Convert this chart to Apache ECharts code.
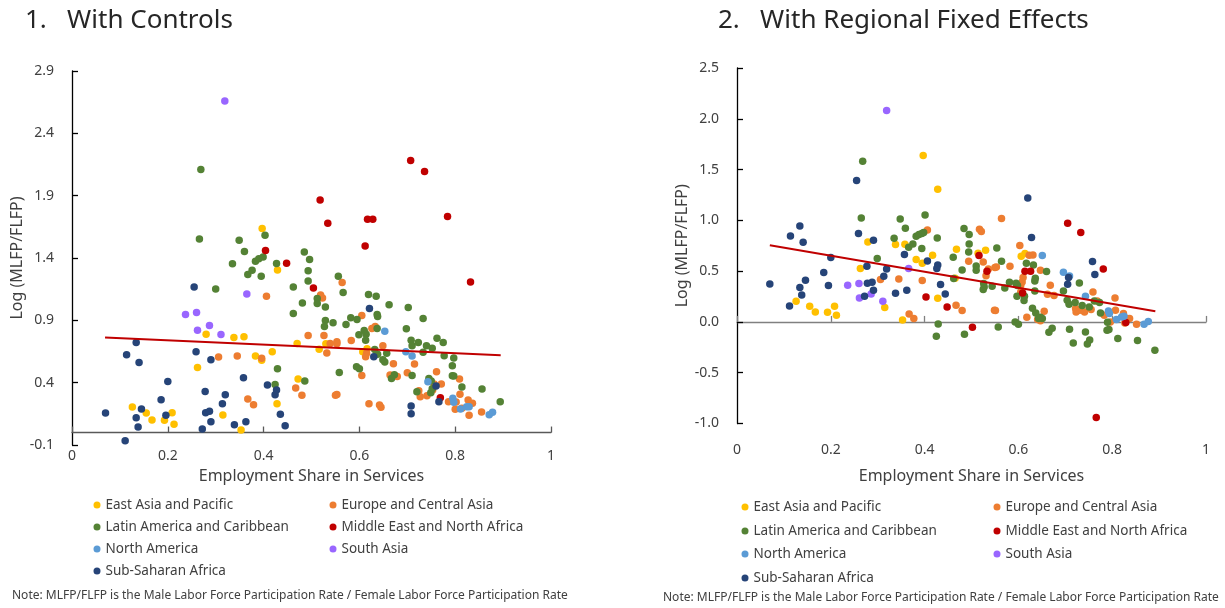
<!DOCTYPE html>
<html>
<head>
<meta charset="utf-8">
<script src="https://cdn.jsdelivr.net/npm/echarts@6/dist/echarts.min.js"></script>
<style>
html,body{margin:0;padding:0;background:#fff;}
#c{width:1225px;height:608px;}
</style>
</head>
<body>
<div id="c"></div>
<script>
const regions = ["East Asia and Pacific","Europe and Central Asia","Latin America and Caribbean","Middle East and North Africa","North America","South Asia","Sub-Saharan Africa"];
const colors = ["#FFC000","#ED7D31","#548235","#C00000","#5B9BD5","#9966FF","#264478"];
const xTicks = [0,0.2,0.4,0.6,0.8,1];

// Panel 1: With Controls  [employment share in services, log(MLFP/FLFP)]
const c_eap = [[0.126,0.204],[0.155,0.156],[0.167,0.100],[0.193,0.098],[0.209,0.159],[0.213,0.066],[0.262,0.522],[0.280,0.789],[0.338,0.763],[0.359,0.768],[0.383,0.613],[0.396,0.579],[0.418,0.647],[0.315,0.140],[0.353,0.020],[0.428,0.231],[0.472,0.429],[0.470,0.715],[0.429,1.304],[0.397,1.636],[0.530,0.712],[0.516,0.669],[0.616,0.672],[0.607,0.647]];
const c_eca = [[0.406,1.094],[0.306,0.605],[0.345,0.613],[0.396,0.595],[0.367,0.268],[0.379,0.223],[0.467,0.357],[0.480,0.300],[0.493,0.779],[0.519,1.104],[0.523,1.080],[0.564,1.203],[0.605,0.939],[0.626,0.835],[0.633,0.851],[0.526,0.779],[0.539,0.715],[0.553,0.728],[0.553,0.712],[0.583,0.739],[0.649,0.696],[0.532,0.637],[0.615,0.635],[0.613,0.607],[0.671,0.551],[0.715,0.549],[0.605,0.458],[0.664,0.461],[0.679,0.450],[0.700,0.479],[0.761,0.487],[0.809,0.429],[0.756,0.389],[0.771,0.389],[0.753,0.341],[0.724,0.335],[0.727,0.287],[0.741,0.295],[0.786,0.247],[0.810,0.308],[0.802,0.244],[0.827,0.260],[0.836,0.234],[0.800,0.186],[0.814,0.194],[0.829,0.138],[0.855,0.164],[0.550,0.300],[0.553,0.306],[0.620,0.231],[0.642,0.220],[0.645,0.202]];
const c_lac = [[0.269,2.109],[0.266,1.553],[0.349,1.543],[0.403,1.583],[0.360,1.452],[0.485,1.449],[0.335,1.353],[0.367,1.268],[0.376,1.302],[0.383,1.374],[0.390,1.393],[0.399,1.409],[0.395,1.254],[0.427,1.356],[0.300,1.152],[0.493,1.297],[0.493,1.216],[0.462,1.168],[0.481,1.040],[0.462,0.955],[0.429,0.511],[0.424,0.386],[0.486,0.413],[0.496,1.388],[0.556,1.254],[0.566,1.123],[0.512,1.075],[0.512,1.035],[0.529,1.006],[0.619,1.107],[0.635,1.094],[0.662,1.024],[0.702,1.003],[0.733,0.915],[0.637,0.947],[0.638,0.931],[0.582,0.920],[0.595,0.907],[0.529,0.899],[0.527,0.851],[0.545,0.880],[0.572,0.867],[0.637,0.835],[0.610,0.819],[0.614,0.789],[0.613,0.741],[0.599,0.784],[0.698,0.832],[0.708,0.741],[0.710,0.696],[0.723,0.723],[0.740,0.696],[0.752,0.677],[0.762,0.757],[0.775,0.723],[0.733,0.643],[0.632,0.667],[0.657,0.635],[0.649,0.584],[0.777,0.615],[0.797,0.597],[0.638,0.627],[0.653,0.565],[0.794,0.535],[0.794,0.455],[0.797,0.453],[0.814,0.365],[0.856,0.349],[0.894,0.247],[0.558,0.482],[0.594,0.527],[0.600,0.511],[0.710,0.458],[0.673,0.463],[0.667,0.434],[0.745,0.434],[0.750,0.413],[0.720,0.327],[0.749,0.319],[0.752,0.351]];
const c_mena = [[0.448,1.358],[0.404,1.460],[0.707,2.183],[0.736,2.093],[0.518,1.865],[0.534,1.679],[0.617,1.711],[0.628,1.711],[0.784,1.732],[0.612,1.497],[0.504,1.160],[0.832,1.208],[0.769,0.279]];
const c_na = [[0.653,0.813],[0.697,0.647],[0.710,0.613],[0.743,0.407],[0.795,0.274],[0.797,0.242],[0.811,0.188],[0.824,0.207],[0.829,0.207],[0.871,0.143],[0.878,0.162]];
const c_sa = [[0.319,2.659],[0.237,0.947],[0.260,0.963],[0.262,0.821],[0.287,0.859],[0.311,0.787],[0.365,1.112]];
const c_ssa = [[0.255,1.168],[0.134,0.723],[0.114,0.623],[0.140,0.562],[0.259,0.647],[0.290,0.583],[0.200,0.410],[0.358,0.439],[0.278,0.330],[0.320,0.303],[0.186,0.263],[0.070,0.156],[0.145,0.188],[0.134,0.119],[0.138,0.044],[0.196,0.138],[0.314,0.231],[0.279,0.159],[0.287,0.170],[0.290,0.087],[0.272,0.028],[0.339,0.063],[0.363,0.087],[0.111,-0.066],[0.408,0.381],[0.427,0.341],[0.424,0.303],[0.435,0.146],[0.445,0.054],[0.621,0.995],[0.630,0.607],[0.760,0.373],[0.766,0.247],[0.708,0.212],[0.708,0.151]];
const c_trend = [[0.069,0.763],[0.895,0.619]];

// Panel 2: With Regional Fixed Effects
const f_eap = [[0.397,1.638],[0.428,1.306],[0.279,0.787],[0.338,0.762],[0.358,0.765],[0.468,0.716],[0.417,0.656],[0.382,0.614],[0.395,0.578],[0.263,0.526],[0.315,0.142],[0.428,0.233],[0.353,0.020],[0.126,0.204],[0.155,0.155],[0.167,0.098],[0.193,0.095],[0.208,0.155],[0.212,0.066],[0.514,0.676],[0.530,0.706],[0.606,0.647],[0.614,0.673],[0.465,0.430]];
const f_eca = [[0.406,0.906],[0.306,0.417],[0.345,0.423],[0.395,0.407],[0.467,0.164],[0.480,0.112],[0.367,0.079],[0.377,0.033],[0.517,0.912],[0.521,0.890],[0.494,0.597],[0.525,0.591],[0.536,0.522],[0.550,0.535],[0.553,0.541],[0.564,1.018],[0.582,0.548],[0.531,0.455],[0.549,0.115],[0.551,0.112],[0.603,0.752],[0.623,0.656],[0.631,0.659],[0.647,0.509],[0.610,0.437],[0.608,0.394],[0.605,0.361],[0.605,0.295],[0.668,0.361],[0.662,0.273],[0.676,0.260],[0.655,0.105],[0.618,0.046],[0.641,0.024],[0.647,0.011],[0.759,0.295],[0.722,0.132],[0.723,0.098],[0.731,0.115],[0.741,0.098],[0.755,0.122],[0.768,0.207],[0.783,0.066],[0.796,0.000],[0.807,0.115],[0.806,0.236],[0.824,0.083],[0.827,-0.010],[0.832,0.033],[0.837,0.033],[0.852,-0.023]];
const f_lac = [[0.268,1.582],[0.265,1.024],[0.348,1.014],[0.359,0.922],[0.401,1.053],[0.335,0.824],[0.366,0.735],[0.375,0.768],[0.382,0.843],[0.388,0.860],[0.394,0.870],[0.398,0.880],[0.394,0.722],[0.427,0.827],[0.299,0.624],[0.429,-0.020],[0.425,-0.141],[0.461,0.637],[0.484,0.919],[0.495,0.860],[0.495,0.768],[0.494,0.689],[0.480,0.512],[0.510,0.551],[0.510,0.509],[0.554,0.728],[0.564,0.597],[0.462,0.427],[0.527,0.344],[0.525,0.319],[0.544,0.351],[0.571,0.335],[0.526,0.378],[0.581,0.391],[0.595,0.381],[0.598,0.358],[0.597,0.253],[0.593,0.000],[0.600,-0.023],[0.557,-0.049],[0.485,-0.121],[0.617,0.578],[0.632,0.561],[0.660,0.496],[0.636,0.430],[0.635,0.404],[0.613,0.253],[0.612,0.211],[0.635,0.305],[0.696,0.305],[0.630,0.135],[0.637,0.089],[0.647,0.046],[0.651,0.033],[0.643,0.033],[0.672,-0.062],[0.665,-0.101],[0.730,0.384],[0.704,0.214],[0.708,0.174],[0.721,0.191],[0.736,0.161],[0.751,0.148],[0.762,0.207],[0.773,0.191],[0.709,-0.072],[0.717,-0.207],[0.743,-0.098],[0.752,-0.177],[0.747,-0.217],[0.775,0.089],[0.790,-0.003],[0.793,-0.075],[0.789,-0.082],[0.812,-0.163],[0.854,-0.183],[0.891,-0.279]];
const f_mena = [[0.403,0.246],[0.448,0.148],[0.516,0.653],[0.533,0.500],[0.502,-0.052],[0.614,0.499],[0.626,0.499],[0.609,0.285],[0.705,0.971],[0.733,0.880],[0.781,0.522],[0.766,-0.941],[0.829,-0.006]];
const f_na = [[0.651,0.653],[0.696,0.489],[0.709,0.453],[0.743,0.253],[0.792,0.108],[0.794,0.082],[0.809,0.024],[0.820,0.049],[0.825,0.056],[0.868,-0.023],[0.877,0.004]];
const f_sa = [[0.319,2.081],[0.236,0.361],[0.260,0.378],[0.261,0.236],[0.286,0.276],[0.311,0.204],[0.366,0.526]];
const f_ssa = [[0.255,1.392],[0.134,0.945],[0.114,0.846],[0.141,0.784],[0.259,0.870],[0.291,0.804],[0.357,0.663],[0.406,0.600],[0.428,0.561],[0.426,0.526],[0.277,0.548],[0.319,0.522],[0.313,0.450],[0.278,0.381],[0.288,0.391],[0.291,0.312],[0.272,0.253],[0.338,0.282],[0.362,0.312],[0.434,0.368],[0.444,0.276],[0.070,0.374],[0.112,0.157],[0.134,0.339],[0.146,0.410],[0.138,0.266],[0.185,0.486],[0.200,0.634],[0.195,0.358],[0.620,1.220],[0.628,0.831],[0.707,0.437],[0.705,0.371],[0.758,0.594],[0.763,0.467]];
const f_trend = [[0.070,0.755],[0.892,0.105]];

const panel1 = [c_eap,c_eca,c_lac,c_mena,c_na,c_sa,c_ssa];
const panel2 = [f_eap,f_eca,f_lac,f_mena,f_na,f_sa,f_ssa];

const FONT = "'Noto Sans', 'Open Sans', sans-serif";
const TXT = '#404040';

const chart = echarts.init(document.getElementById('c'), null, {renderer:'canvas'});

function xAxesFor(grid, lineColor, labelMargin, nameGap){
  return [
    {type:'value', gridIndex:grid, min:0, max:1, interval:0.2, position:'bottom',
     axisLine:{show:true, onZero:true, lineStyle:{color:lineColor, width:1.3}},
     axisTick:{show:true, inside:true, length:6, lineStyle:{color:lineColor, width:1.3}},
     axisLabel:{show:false}, splitLine:{show:false}},
    {type:'value', gridIndex:grid, min:0, max:1, interval:0.2, position:'bottom',
     axisLine:{show:false, onZero:false}, axisTick:{show:false}, splitLine:{show:false},
     axisLabel:{show:true, margin:labelMargin, fontSize:14, color:TXT, fontFamily:FONT},
     name:'Employment Share in Services', nameLocation:'middle', nameGap:nameGap,
     nameTextStyle:{fontSize:16, color:TXT, fontFamily:FONT, verticalAlign:'top'}}
  ];
}
function yAxisFor(grid, min, max){
  return {type:'value', gridIndex:grid, min:min, max:max, interval:0.5,
    axisLine:{show:true, onZero:false, lineStyle:{color:'#000', width:1.3}},
    axisTick:{show:true, inside:true, length:6, lineStyle:{color:'#000', width:1.3}},
    splitLine:{show:false},
    axisLabel:{margin:18, fontSize:14, color:TXT, fontFamily:FONT, formatter:v=>v.toFixed(1)},
    name:'Log (MLFP/FLFP)', nameLocation:'middle', nameGap:45,
    nameTextStyle:{fontSize:16, color:TXT, fontFamily:FONT}};
}

const series = [];
[panel1, panel2].forEach((panel, p) => {
  panel.forEach((d, i) => {
    series.push({type:'scatter', name:regions[i], xAxisIndex:p*2, yAxisIndex:p, data:d,
      symbol:'circle', symbolSize:7.5, itemStyle:{color:colors[i], opacity:1}, z:2});
  });
  series.push({type:'line', name:'trend'+p, xAxisIndex:p*2, yAxisIndex:p, data:p===0?c_trend:f_trend,
    symbol:'none', lineStyle:{color:'#C00000', width:2}, z:3, silent:true});
});

function legendsFor(col1x, col2x, rows){
  const pos = [[col1x,rows[0]],[col2x,rows[0]],[col1x,rows[1]],[col2x,rows[1]],[col1x,rows[2]],[col2x,rows[2]],[col1x,rows[3]]];
  return regions.map((r,i)=>({
    data:[r], left:pos[i][0], top:pos[i][1], icon:'circle', itemWidth:7, itemHeight:7, itemGap:0,
    selectedMode:false, padding:0,
    textStyle:{fontSize:13.5, color:TXT, fontFamily:FONT, padding:[0,0,0,0]}
  }));
}

chart.setOption({
  animation:false,
  backgroundColor:'#fff',
  title:[
    {text:'1.   With Controls', left:25, top:8, padding:0, textStyle:{fontSize:26, fontWeight:'normal', color:'#262626', fontFamily:FONT}},
    {text:'2.   With Regional Fixed Effects', left:718, top:8, padding:0, textStyle:{fontSize:26, fontWeight:'normal', color:'#262626', fontFamily:FONT}},
    {text:'Note: MLFP/FLFP is the Male Labor Force Participation Rate / Female Labor Force Participation Rate', left:12, top:590, padding:0, textStyle:{fontSize:12, fontWeight:'normal', color:TXT, fontFamily:FONT}},
    {text:'Note: MLFP/FLFP is the Male Labor Force Participation Rate / Female Labor Force Participation Rate', left:663, top:592, padding:0, textStyle:{fontSize:12, fontWeight:'normal', color:TXT, fontFamily:FONT}}
  ],
  legend: legendsFor(93.5, 329.5, [498,520,542,564]).concat(legendsFor(741.5, 993.5, [500,524,547,571])),
  grid:[
    {left:72, top:71, width:479, height:374, outerBoundsMode:'none', containLabel:false},
    {left:737, top:68, width:469, height:355.5, outerBoundsMode:'none', containLabel:false}
  ],
  xAxis: xAxesFor(0,'#595959',4,23).concat(xAxesFor(1,'#808080',20,45)),
  yAxis: [yAxisFor(0,-0.1,2.9), yAxisFor(1,-1,2.5)],
  series: series
});
</script>
</body>
</html>
